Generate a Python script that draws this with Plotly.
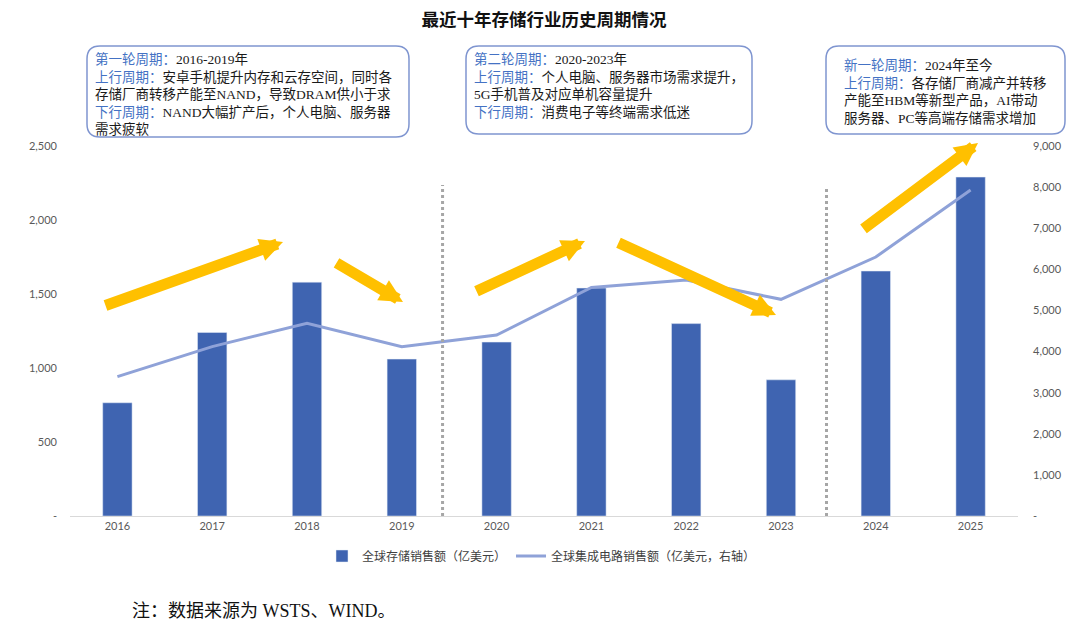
import plotly.graph_objects as go

# 数据
years = ['2016', '2017', '2018', '2019', '2020', '2021', '2022', '2023', '2024', '2025']
memory_sales = [765, 1240, 1580, 1060, 1175, 1540, 1300, 920, 1655, 2290]
ic_sales = [3390, 4120, 4690, 4120, 4400, 5560, 5740, 5270, 6300, 7930]

left_ticks = [0, 500, 1000, 1500, 2000, 2500]
left_ticktext = ['-', '500', '1,000', '1,500', '2,000', '2,500']
right_ticks = [0, 1000, 2000, 3000, 4000, 5000, 6000, 7000, 8000, 9000]
right_ticktext = ['-', '1,000', '2,000', '3,000', '4,000', '5,000', '6,000', '7,000', '8,000', '9,000']

# 页面默认有 8px 边距，所以图本身缩小 8px
OFF = 8
W, H = 1080 - OFF, 621 - OFF
# 绘图区（参考图像素）
PL, PR, PT, PB = 70, 1018, 146, 516


def px(x, y):
    # 参考图像素 -> paper 坐标
    return (x - PL) / (PR - PL), (PB - y) / (PB - PT)


def rounded_box(x0, y0, x1, y1, r=13):
    def P(x, y):
        a, b = px(x, y)
        return f'{a:.5f},{b:.5f}'
    d = (f'M{P(x0 + r, y0)} L{P(x1 - r, y0)} Q{P(x1, y0)} {P(x1, y0 + r)} '
         f'L{P(x1, y1 - r)} Q{P(x1, y1)} {P(x1 - r, y1)} '
         f'L{P(x0 + r, y1)} Q{P(x0, y1)} {P(x0, y1 - r)} '
         f'L{P(x0, y0 + r)} Q{P(x0, y0)} {P(x0 + r, y0)} Z')
    return dict(type='path', path=d, xref='paper', yref='paper',
                line=dict(color='#7F95D0', width=1.5), fillcolor='rgba(0,0,0,0)')


BLUE = '#4472C4'
DARK = '#1a1a1a'
SERIF = 'Liberation Serif, Noto Sans CJK SC'
TICKFONT = dict(family='Lato, Open Sans', size=11, color='#595959')


def lab(s):
    return f"<span style='color:{BLUE}'>{s}</span>"


box_texts = [
    (93, 49, lab('第一轮周期：') + '2016-2019年<br>'
     + lab('上行周期：') + '安卓手机提升内存和云存空间，同时各<br>'
     + '存储厂商转移产能至NAND，导致DRAM供小于求<br>'
     + lab('下行周期：') + 'NAND大幅扩产后，个人电脑、服务器<br>'
     + '需求疲软'),
    (472, 49, lab('第二轮周期：') + '2020-2023年<br>'
     + lab('上行周期：') + '个人电脑、服务器市场需求提升，<br>'
     + '5G手机普及对应单机容量提升<br>'
     + lab('下行周期：') + '消费电子等终端需求低迷'),
    (842, 56, lab('新一轮周期：') + '2024年至今<br>'
     + lab('上行周期：') + '各存储厂商减产并转移<br>'
     + '产能至HBM等新型产品，AI带动<br>'
     + '服务器、PC等高端存储需求增加'),
]

# 箭头 (尾部 -> 头部)，像素
arrows = [
    ((104, 306), (283, 242)),
    ((335, 262), (403, 302)),
    ((475, 292), (585, 241)),
    ((617, 242), (776, 315)),
    ((862, 230), (978, 143)),
]

fig = go.Figure()

fig.add_trace(go.Bar(
    x=years, y=memory_sales, name='全球存储销售额（亿美元）',
    marker=dict(color='#3F64B1'), width=0.31
))

fig.add_trace(go.Scatter(
    x=years, y=ic_sales, name='全球集成电路销售额（亿美元，右轴）',
    mode='lines', line=dict(color='#8FA2D8', width=3), yaxis='y2'
))

shapes = [rounded_box(87, 46, 409, 137), rounded_box(466, 46, 752, 134),
          rounded_box(826, 46, 1065, 134)]

# 分隔虚线
for xv, ytop in [(3.43, 185), (7.48, 186)]:
    shapes.append(dict(type='line', xref='x', yref='paper', x0=xv, x1=xv,
                       y0=0, y1=px(0, ytop)[1],
                       line=dict(color='#A6A6A6', width=3, dash='dot')))

annotations = []
for x, y, t in box_texts:
    ax_, ay_ = px(x, y)
    annotations.append(dict(x=ax_, y=ay_, xref='paper', yref='paper', text=t,
                            showarrow=False, xanchor='left', yanchor='top', align='left',
                            font=dict(family=SERIF, size=13.5, color=DARK)))

for (tx, ty), (hx, hy) in arrows:
    a, b = px(hx, hy)
    annotations.append(dict(x=a, y=b, xref='paper', yref='paper', text='',
                            showarrow=True, arrowhead=2, arrowsize=0.42, arrowwidth=11,
                            arrowcolor='#FFC000', ax=tx - hx, ay=ty - hy, standoff=0))

fx, fy = px(130, 611)
annotations.append(dict(x=fx, y=fy, xref='paper', yref='paper',
                        text='注：数据来源为 WSTS、WIND。', showarrow=False,
                        xanchor='left', yanchor='middle',
                        font=dict(family=SERIF, size=18, color='#111111')))

lx, ly = px(322, 556)

fig.update_layout(
    width=W, height=H,
    margin=dict(l=PL - OFF, r=W - (PR - OFF), t=PT - OFF, b=H - (PB - OFF)),
    title=dict(text='<b>最近十年存储行业历史周期情况</b>', x=0.5, xanchor='center',
               y=1 - (20 - OFF) / H, yanchor='middle',
               font=dict(family='Noto Sans CJK SC', size=17.5, color='#111111')),
    plot_bgcolor='white', paper_bgcolor='white',
    bargap=0.69,
    showlegend=True,
    legend=dict(orientation='h', x=lx, y=ly, xanchor='left', yanchor='middle',
                font=dict(family=SERIF, size=12, color='#404040'),
                bgcolor='rgba(0,0,0,0)'),
    xaxis=dict(type='category', showgrid=False, showline=True, linecolor='#D9D9D9',
               linewidth=1, ticks='', tickfont=TICKFONT),
    yaxis=dict(range=[0, 2500], tickvals=left_ticks, ticktext=left_ticktext,
               showgrid=False, zeroline=False, ticks='', ticklabelstandoff=12,
               tickfont=TICKFONT),
    yaxis2=dict(range=[0, 9000], tickvals=right_ticks, ticktext=right_ticktext,
                overlaying='y', side='right', showgrid=False, zeroline=False, ticks='',
                ticklabelstandoff=14, tickfont=TICKFONT),
    shapes=shapes,
    annotations=annotations,
)

fig.write_html('out.html')
